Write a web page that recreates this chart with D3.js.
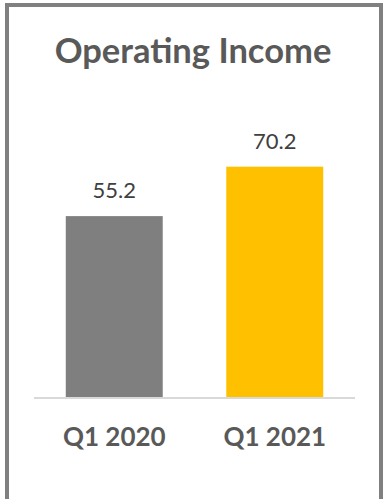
<!DOCTYPE html>
<html>
<head>
<meta charset="utf-8">
<script src="https://cdn.jsdelivr.net/npm/d3@7"></script>
<style>
  html, body { margin: 0; padding: 0; background: #fff; }
  svg { display: block; }
</style>
</head>
<body>
<svg id="chart" width="384" height="499"></svg>
<script>
const title = "Operating Income";
const categories = ["Q1 2020", "Q1 2021"];
const values = [55.2, 70.2];
const colors = ["#7f7f7f", "#ffc000"];

const svg = d3.select("#chart");
const W = 384, H = 499;
const baseY = 398;

// panel frame
svg.append("rect")
  .attr("x", 7).attr("y", 5)
  .attr("width", 374).attr("height", H)
  .attr("fill", "#fff")
  .attr("stroke", "#808080")
  .attr("stroke-width", 4);

svg.append("text")
  .attr("x", 193).attr("y", 63)
  .attr("text-anchor", "middle")
  .attr("font-family", "Lato, 'Open Sans', sans-serif")
  .attr("font-weight", 700)
  .attr("font-size", 34.5)
  .attr("fill", "#595959")
  .text(title);

const x = d3.scaleBand()
  .domain(categories)
  .range([34, 355])
  .paddingInner(0.396)
  .paddingOuter(0.198);

const y = d3.scaleLinear()
  .domain([0, 80])
  .range([baseY, baseY - 80 * 3.295]);

const data = categories.map((c, i) => ({ c, v: values[i], col: colors[i] }));

svg.append("g").selectAll("rect")
  .data(data)
  .join("rect")
  .attr("x", d => x(d.c))
  .attr("y", d => y(d.v))
  .attr("width", x.bandwidth())
  .attr("height", d => y(0) - y(d.v))
  .attr("fill", d => d.col);

// value labels
svg.append("g").selectAll("text")
  .data(data)
  .join("text")
  .attr("x", d => x(d.c) + x.bandwidth() / 2)
  .attr("y", d => y(d.v) - 18)
  .attr("text-anchor", "middle")
  .attr("font-family", "Lato, 'Open Sans', sans-serif")
  .attr("font-size", 22)
  .attr("fill", "#404040")
  .text(d => d.v.toFixed(1));

// category axis
const axis = svg.append("g")
  .attr("transform", `translate(0,${baseY})`)
  .call(d3.axisBottom(x).tickSize(0).tickPadding(30).tickSizeOuter(0));
axis.select(".domain")
  .attr("stroke", "#d9d9d9")
  .attr("stroke-width", 2)
  .attr("d", "M34,0H355");
axis.selectAll(".tick text")
  .attr("font-family", "Lato, 'Open Sans', sans-serif")
  .attr("font-weight", 700)
  .attr("font-size", 26)
  .attr("fill", "#595959")
  .attr("dy", "0.71em");
</script>
</body>
</html>
